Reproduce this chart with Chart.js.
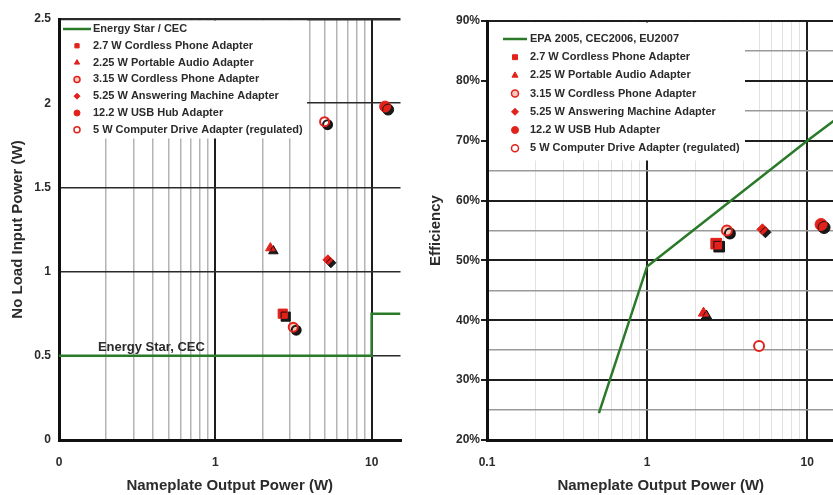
<!DOCTYPE html>
<html>
<head>
<meta charset="utf-8">
<script src="https://cdn.jsdelivr.net/npm/chart.js@4.4.0/dist/chart.umd.min.js"></script>
<style>
  html, body { margin: 0; padding: 0; background: #fff; overflow: hidden; }
  #leftBox { position: absolute; left: 0; top: 0; width: 405px; height: 495px; overflow: hidden; }
  #rightBox { position: absolute; left: 416px; top: 0; width: 417px; height: 495px; overflow: hidden; }
</style>
</head>
<body>
<div id="leftBox"><canvas id="noLoadChart" width="408" height="495"></canvas></div>
<div id="rightBox"><canvas id="effChart" width="427" height="495"></canvas></div>
<script>
// values
const adapterNames = [
  '2.7 W Cordless Phone Adapter',
  '2.25 W Portable Audio Adapter',
  '3.15 W Cordless Phone Adapter',
  '5.25 W Answering Machine Adapter',
  '12.2 W USB Hub Adapter',
  '5 W Computer Drive Adapter (regulated)'
];
const outputPower = [2.7, 2.25, 3.15, 5.25, 12.2, 5];
const noLoadInput = [0.75, 1.14, 0.67, 1.07, 1.98, 1.89];
const efficiencyPct = [52.8, 41.2, 55.0, 55.2, 56.0, 35.7];

// limit lines
const energyStarPower = [0.1, 10, 10, 15.3];
const energyStarLimit = [0.5, 0.5, 0.75, 0.75];
const epaPower = [0.5, 1, 10, 14.8];
const epaLimit = [24.5, 49, 70, 73.4];

// axis ticks
const logGridValues = [0.1, 0.2, 0.3, 0.4, 0.5, 0.6, 0.7, 0.8, 0.9, 1, 2, 3, 4, 5, 6, 7, 8, 9, 10];
const decadeValues = [0.1, 1, 10];
const leftDecadeText = ['0', '1', '10'];
const rightDecadeText = ['0.1', '1', '10'];

const RED = '#e3211b';
const GREEN = '#2a7a2a';
const INK = '#2b2b2b';
const FONT = '"Liberation Sans", Arial, Helvetica, sans-serif';

Chart.defaults.font.family = FONT;
Chart.defaults.font.weight = 'bold';
Chart.defaults.color = INK;

function isDecade(v) {
  const l = Math.log10(v);
  return Math.abs(l - Math.round(l)) < 1e-6;
}

// marker look per adapter (left panel, right panel)
const leftLook = [
  { style: 'rect', r: 6.5, fill: RED, bw: 1, shadow: true },
  { style: 'triangle', r: 5.5, fill: RED, bw: 1, shadow: true },
  { style: 'circle', r: 4.5, fill: '#f7c9bb', bw: 2, shadow: true },
  { style: 'rectRot', r: 5, fill: RED, bw: 1, shadow: true },
  { style: 'circle', r: 5.5, fill: RED, bw: 1, shadow: true },
  { style: 'circle', r: 4.5, fill: '#ffffff', bw: 2, shadow: true }
];
const rightLook = [
  { style: 'rect', r: 7.5, fill: RED, bw: 1, shadow: true },
  { style: 'triangle', r: 6, fill: RED, bw: 1, shadow: true },
  { style: 'circle', r: 5, fill: '#f7c9bb', bw: 2, shadow: true },
  { style: 'rectRot', r: 5.5, fill: RED, bw: 1, shadow: true },
  { style: 'circle', r: 6, fill: RED, bw: 1, shadow: true },
  { style: 'circle', r: 5, fill: '#ffffff', bw: 2, shadow: false }
];

function adapterSets(yValues, look) {
  return adapterNames.map((name, i) => ({
    label: name,
    data: [{ x: outputPower[i], y: yValues[i] }],
    pointStyle: look[i].style,
    pointRadius: look[i].r,
    pointHoverRadius: look[i].r,
    pointBackgroundColor: look[i].fill,
    pointBorderColor: RED,
    pointBorderWidth: look[i].bw,
    shadow: look[i].shadow
  }));
}

function limitSet(label, xs, ys) {
  return {
    label: label,
    data: xs.map((x, i) => ({ x: x, y: ys[i] })),
    showLine: true,
    borderColor: GREEN,
    borderWidth: 2.5,
    pointRadius: 0,
    pointHoverRadius: 0,
    tension: 0
  };
}

// black drop shadow under the markers
const markerShadow = {
  id: 'markerShadow',
  beforeDatasetDraw(chart, args) {
    if (!chart.data.datasets[args.index].shadow) return;
    const ctx = chart.ctx;
    ctx.save();
    ctx.shadowColor = 'rgba(15,15,15,0.95)';
    ctx.shadowOffsetX = 3;
    ctx.shadowOffsetY = 3;
    ctx.shadowBlur = 0.5;
  },
  afterDatasetDraw(chart, args) {
    if (chart.data.datasets[args.index].shadow) chart.ctx.restore();
  }
};

function drawMarker(ctx, style, x, y, r) {
  ctx.beginPath();
  if (style === 'rect') {
    const s = r * Math.SQRT1_2;
    ctx.rect(x - s, y - s, 2 * s, 2 * s);
  } else if (style === 'triangle') {
    ctx.moveTo(x, y - r);
    ctx.lineTo(x + r * 0.87, y + r * 0.5);
    ctx.lineTo(x - r * 0.87, y + r * 0.5);
    ctx.closePath();
  } else if (style === 'rectRot') {
    ctx.moveTo(x, y - r);
    ctx.lineTo(x + r, y);
    ctx.lineTo(x, y + r);
    ctx.lineTo(x - r, y);
    ctx.closePath();
  } else {
    ctx.arc(x, y, r, 0, Math.PI * 2);
  }
  ctx.fill();
  ctx.stroke();
}

// white legend box inside the plot, covering the grid
const boxLegend = {
  id: 'boxLegend',
  afterDraw(chart, args, o) {
    const { ctx, chartArea } = chart;
    const left = chartArea.left, top = chartArea.top;
    ctx.save();
    ctx.fillStyle = '#fff';
    ctx.fillRect(left + 2, top + 1.5, o.width, o.height);
    ctx.font = 'bold ' + o.fontSize + 'px ' + FONT;
    ctx.textBaseline = 'middle';
    chart.data.datasets.forEach((ds, i) => {
      const y = top + o.firstRow + i * o.rowGap;
      if (ds.showLine) {
        ctx.strokeStyle = GREEN;
        ctx.lineWidth = 2.5;
        ctx.beginPath();
        ctx.moveTo(left + o.lineFrom, y);
        ctx.lineTo(left + o.lineTo, y);
        ctx.stroke();
      } else {
        ctx.fillStyle = ds.pointBackgroundColor;
        ctx.strokeStyle = RED;
        ctx.lineWidth = ds.pointBorderWidth > 1 ? 1.5 : 1;
        drawMarker(ctx, ds.pointStyle, left + o.markerX, y, o.markerR);
      }
      ctx.fillStyle = INK;
      ctx.fillText(ds.label, left + o.textX, y);
    });
    ctx.restore();
  }
};

// text label sitting on the Energy Star line
const lineLabel = {
  id: 'lineLabel',
  afterDatasetsDraw(chart, args, o) {
    if (!o.text) return;
    const { ctx, scales } = chart;
    ctx.save();
    ctx.font = 'bold 13px ' + FONT;
    ctx.fillStyle = INK;
    ctx.textAlign = 'center';
    ctx.textBaseline = 'bottom';
    ctx.fillText(o.text, scales.x.getPixelForValue(o.xValue), scales.y.getPixelForValue(o.yValue) - 2);
    ctx.restore();
  }
};

function logAxis(max, tickText, minorColor, minorWidth) {
  return {
    type: 'logarithmic',
    min: 0.1,
    max: max,
    afterBuildTicks: (axis) => { axis.ticks = logGridValues.map(v => ({ value: v })); },
    afterFit: (axis) => { axis.height = 55; },
    ticks: {
      autoSkip: false,
      maxRotation: 0,
      padding: 15,
      font: { size: 12, weight: 'bold' },
      color: INK,
      callback: (v) => {
        const k = decadeValues.findIndex(d => Math.abs(d - v) < 1e-9);
        return k >= 0 ? tickText[k] : '';
      }
    },
    grid: {
      drawTicks: false,
      color: (c) => isDecade(c.tick.value) ? '#1e1e1e' : minorColor,
      lineWidth: (c) => isDecade(c.tick.value) ? 2 : minorWidth
    },
    border: { color: '#111', width: 3 },
    title: {
      display: true,
      text: 'Nameplate Output Power (W)',
      font: { size: 15, weight: 'bold' },
      color: INK,
      padding: { top: 0, bottom: 0 }
    }
  };
}

new Chart(document.getElementById('noLoadChart'), {
  type: 'scatter',
  data: {
    datasets: [limitSet('Energy Star / CEC', energyStarPower, energyStarLimit)]
      .concat(adapterSets(noLoadInput, leftLook))
  },
  options: {
    responsive: false,
    animation: false,
    events: [],
    layout: { padding: { top: 19, right: 1, left: 0, bottom: 0 } },
    plugins: {
      legend: { display: false },
      tooltip: { enabled: false },
      boxLegend: { width: 246, height: 118, firstRow: 10, rowGap: 16.8, lineFrom: 4, lineTo: 32,
                   markerX: 18, markerR: 3, textX: 34, fontSize: 11 },
      lineLabel: { text: 'Energy Star, CEC', xValue: 0.39, yValue: 0.5 }
    },
    scales: {
      x: logAxis(15.3, leftDecadeText, '#b4b4b4', 1.5),
      y: {
        min: 0,
        max: 2.5,
        afterFit: (axis) => { axis.width = 59; },
        ticks: {
          stepSize: 0.5,
          padding: 8,
          font: { size: 12, weight: 'bold' },
          color: INK,
          callback: (v) => String(v)
        },
        grid: {
          drawTicks: false,
          color: '#2a2a2a',
          lineWidth: (c) => c.tick.value === 2.5 ? 2.5 : 1.5
        },
        border: { color: '#111', width: 3 },
        title: {
          display: true,
          text: 'No Load Input Power (W)',
          font: { size: 15, weight: 'bold' },
          color: INK,
          padding: { top: 9, bottom: 0 }
        }
      }
    }
  },
  plugins: [markerShadow, boxLegend, lineLabel]
});

new Chart(document.getElementById('effChart'), {
  type: 'scatter',
  data: {
    datasets: [limitSet('EPA 2005, CEC2006, EU2007', epaPower, epaLimit)]
      .concat(adapterSets(efficiencyPct, rightLook))
  },
  options: {
    responsive: false,
    animation: false,
    events: [],
    layout: { padding: { top: 21, right: 0, left: 0, bottom: 0 } },
    plugins: {
      legend: { display: false },
      tooltip: { enabled: false },
      boxLegend: { width: 256, height: 138, firstRow: 18, rowGap: 18.2, lineFrom: 16, lineTo: 40,
                   markerX: 28, markerR: 3.5, textX: 43, fontSize: 11 },
      lineLabel: { text: '' }
    },
    scales: {
      x: logAxis(14.8, rightDecadeText, '#e2e2e2', 1),
      y: {
        min: 20,
        max: 90,
        afterFit: (axis) => { axis.width = 71; },
        ticks: {
          stepSize: 5,
          padding: 1,
          font: { size: 12, weight: 'bold' },
          color: INK,
          callback: (v) => (v % 10 === 0 ? v + '%' : '')
        },
        grid: {
          drawTicks: true,
          tickLength: 6,
          tickColor: (c) => c.tick.value % 10 === 0 ? '#1e1e1e' : 'rgba(0,0,0,0)',
          color: (c) => c.tick.value % 10 === 0 ? '#1e1e1e' : '#9a9a9a',
          lineWidth: (c) => c.tick.value % 10 === 0 ? 2 : 1.5
        },
        border: { color: '#111', width: 3 },
        title: {
          display: true,
          text: 'Efficiency',
          font: { size: 15, weight: 'bold' },
          color: INK,
          padding: { top: 11, bottom: 0 }
        }
      }
    }
  },
  plugins: [markerShadow, boxLegend, lineLabel]
});
</script>
</body>
</html>
